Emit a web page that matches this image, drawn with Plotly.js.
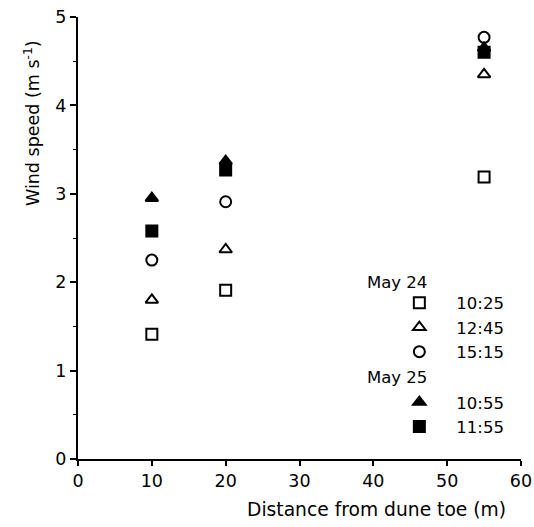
<!DOCTYPE html>
<html>
<head>
<meta charset="utf-8">
<script src="https://cdn.plot.ly/plotly-3.0.1.min.js"></script>
<style>
  html, body { margin: 0; padding: 0; background: #fff; }
  #chart { width: 534px; height: 527px; }
</style>
</head>
<body>
<div id="chart"></div>
<script>
// Distance from the dune toe (m)
const distance = [10, 20, 55];

// Wind speed (m s-1) at each distance, one array per measurement run
const may24_1025 = [1.41, 1.91, 3.19];
const may24_1245 = [1.80, 2.37, 4.35];
const may24_1515 = [2.25, 2.91, 4.77];
const may25_1055 = [2.95, 3.37, 4.65];
const may25_1155 = [2.58, 3.27, 4.60];

const runLabels = ['10:25', '12:45', '15:15', '10:55', '11:55'];
const dayLabels = ['May 24', 'May 25'];

const xTicks = [0, 10, 20, 30, 40, 50, 60];
const yTicks = [0, 1, 2, 3, 4, 5];

const FONT = 'DejaVu Sans, Verdana, sans-serif';

function run(y, name, symbol, group) {
  return {
    type: 'scatter', mode: 'markers',
    x: distance, y: y, name: name,
    legendgroup: group,
    marker: {
      symbol: symbol, size: 11, color: '#000',
      line: { color: '#000', width: 2 }
    },
    cliponaxis: false
  };
}

const traces = [
  run(may24_1025, runLabels[0], 'square-open', 'd24'),
  run(may24_1245, runLabels[1], 'triangle-up-open', 'd24'),
  run(may24_1515, runLabels[2], 'circle-open', 'd24'),
  run(may25_1055, runLabels[3], 'triangle-up', 'd25'),
  run(may25_1155, runLabels[4], 'square', 'd25')
];

const layout = {
  width: 534, height: 527,
  margin: { l: 78, r: 13, t: 17, b: 68 },
  paper_bgcolor: '#fff', plot_bgcolor: '#fff',
  font: { family: FONT, size: 17, color: '#000' },
  showlegend: true,
  legend: {
    x: 0.687, y: 0.3925, xanchor: 'left', yanchor: 'top',
    bgcolor: 'rgba(0,0,0,0)',
    itemwidth: 64,
    tracegroupgap: 26,
    traceorder: 'grouped',
    font: { family: FONT, size: 16.5, color: '#000' }
  },
  xaxis: {
    range: [0, 60], tickvals: xTicks, ticktext: xTicks.map(String),
    showline: true, linecolor: '#000', linewidth: 2,
    ticks: 'outside', ticklen: 5, tickwidth: 2, tickcolor: '#000',
    showgrid: false, zeroline: false,
    tickfont: { family: FONT, size: 17.5 }
  },
  yaxis: {
    range: [0, 5], tickvals: yTicks, ticktext: yTicks.map(String),
    showline: true, linecolor: '#000', linewidth: 2,
    ticks: 'outside', ticklen: 6, tickwidth: 2, tickcolor: '#000',
    showgrid: false, zeroline: false,
    minor: { dtick: 0.5, ticks: 'outside', ticklen: 3, tickcolor: '#000', tickwidth: 1 },
    tickfont: { family: FONT, size: 17.5 }
  },
  annotations: [
    {
      text: 'Distance from dune toe (m)', xref: 'paper', yref: 'paper',
      x: 1.0, y: 0, xanchor: 'right', yanchor: 'top', yshift: -38, xshift: -13,
      showarrow: false, font: { family: FONT, size: 18.7 }
    },
    {
      text: 'Wind speed (m s<sup>-1</sup>)', xref: 'paper', yref: 'paper',
      x: 0, y: 1, xanchor: 'center', yanchor: 'top', xshift: -46, yshift: -21,
      textangle: -90, showarrow: false, font: { family: FONT, size: 17.5 }
    },
    {
      text: dayLabels[0], xref: 'paper', yref: 'paper',
      x: 0.648, y: 0.400, xanchor: 'left', yanchor: 'middle',
      showarrow: false, font: { family: FONT, size: 16.5 }
    },
    {
      text: dayLabels[1], xref: 'paper', yref: 'paper',
      x: 0.648, y: 0.1855, xanchor: 'left', yanchor: 'middle',
      showarrow: false, font: { family: FONT, size: 16.5 }
    }
  ]
};

Plotly.newPlot('chart', traces, layout, { displayModeBar: false, staticPlot: true });
</script>
</body>
</html>
